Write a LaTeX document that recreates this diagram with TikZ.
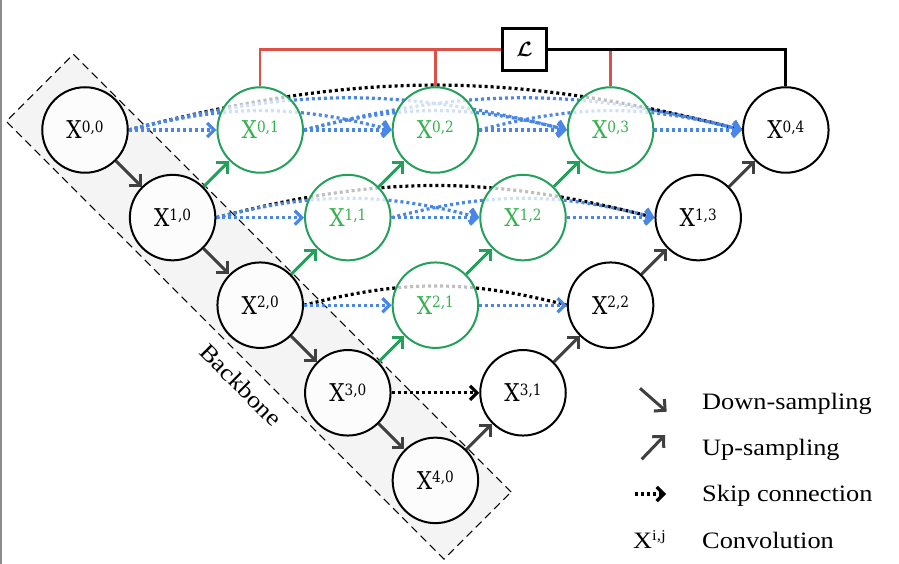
\documentclass[tikz,border=0pt]{standalone}
\usepackage{amsmath}
\usepackage{fontspec}
\setmainfont{Liberation Serif}[FakeStretch=1.12]
\newfontfamily\nodefont{DejaVu Serif}[FakeStretch=0.88]
\usetikzlibrary{arrows.meta}
\definecolor{gr}{HTML}{23A05A}
\definecolor{grt}{HTML}{34B04C}
\definecolor{bl}{HTML}{4A86E8}
\definecolor{rd}{HTML}{DC5046}
\definecolor{dg}{HTML}{404040}
\definecolor{bbfill}{HTML}{F4F4F4}
\definecolor{edgegray}{HTML}{8C8C8C}
\pgfdeclarelayer{back}
\pgfdeclarelayer{bg}
\pgfsetlayers{back,bg,main}
\newcommand\xl[2]{X\raisebox{6.5pt}{\fontsize{15.5}{15.5}\selectfont #1,#2}}
\begin{document}
\begin{tikzpicture}[x=1pt,y=1pt,
  cnode/.style={circle, draw, line width=2pt, minimum size=85.5pt, inner sep=0pt,
    fill=white, fill opacity=0.75, text opacity=1, draw opacity=1,
    font=\nodefont\fontsize{24.5}{24.5}\selectfont},
  gnode/.style={cnode, draw=gr, text=grt},
  knode/.style={cnode, draw=black, text=black},
  dnarrow/.style={dg, line width=3pt, -{Straight Barb[length=8pt,width=16pt]}},
  gnarrow/.style={gr, line width=3pt, -{Straight Barb[length=8pt,width=16pt]}},
  bskip/.style={bl, line width=3.2pt, dash pattern=on 3pt off 3pt, -{Straight Barb[length=7pt,width=14pt]}},
  kskip/.style={black, line width=3.2pt, dash pattern=on 3pt off 3pt},
  redline/.style={rd, line width=2.5pt},
  kline/.style={black, line width=2.8pt},
  lgtext/.style={font=\fontsize{23.5}{23.5}\selectfont, inner sep=0pt},
  bbox/.style={draw=black, line width=1.1pt, dash pattern=on 8pt off 5pt, fill=bbfill, inner sep=0pt}
]
\useasboundingbox (0,0) rectangle (899,564);
\draw[edgegray, line width=1.5pt] (1,0) -- (1,564);

% nodes
\node[knode] (X00) at (85,434) {\xl{0}{0}};
\node[knode] (X10) at (172.6,346.4) {\xl{1}{0}};
\node[knode] (X20) at (260.2,258.8) {\xl{2}{0}};
\node[knode] (X30) at (347.8,171.2) {\xl{3}{0}};
\node[knode] (X40) at (435.4,83.6) {\xl{4}{0}};
\node[gnode] (X01) at (260.2,434) {\xl{0}{1}};
\node[gnode] (X11) at (347.8,346.4) {\xl{1}{1}};
\node[gnode] (X21) at (435.4,258.8) {\xl{2}{1}};
\node[knode] (X31) at (523,171.2) {\xl{3}{1}};
\node[gnode] (X02) at (435.4,434) {\xl{0}{2}};
\node[gnode] (X12) at (523,346.4) {\xl{1}{2}};
\node[knode] (X22) at (610.6,258.8) {\xl{2}{2}};
\node[gnode] (X03) at (610.6,434) {\xl{0}{3}};
\node[knode] (X13) at (698.2,346.4) {\xl{1}{3}};
\node[knode] (X04) at (785.8,434) {\xl{0}{4}};

% loss box
\node[draw, line width=3pt, minimum width=44pt, minimum height=41.5pt, inner sep=0pt] (L) at (524.5,514.5)
  {\fontsize{21}{21}\selectfont$\boldsymbol{\mathcal{L}}$};
\draw[redline] (X01.north) |- (L.west);
\draw[redline] (X02.north) -- (X02.north |- L.west);
\draw[redline] (X03.north) -- (X03.north |- L.east);
\draw[kline] (L.east) -| (X04.north);

% backbone
\begin{pgfonlayer}{back}
\node[bbox, rotate=-45, minimum width=619pt, minimum height=95pt] (bb) at ([xshift=-1.5pt,yshift=-1.5pt]X20.center) {};
\node[lgtext, rotate=-45] (bbt) at (241,179) {Backbone};
\end{pgfonlayer}

\begin{pgfonlayer}{bg}
% black skip arcs
\draw[kskip] (X00.east) to[bend left=14.5] (X04.west);
\draw[kskip] (X10.east) to[bend left=14.5] (X13.west);
\draw[kskip] (X20.east) to[bend left=14.5] (X22.west);
\draw[kskip, -{Straight Barb[length=7pt,width=14pt]}] (X30) -- (X31);
% blue straight
\draw[bskip] (X00) -- (X01);
\draw[bskip] (X01) -- (X02);
\draw[bskip] (X02) -- (X03);
\draw[bskip] (X03) -- (X04);
\draw[bskip] (X10) -- (X11);
\draw[bskip] (X11) -- (X12);
\draw[bskip] (X12) -- (X13);
\draw[bskip] (X20) -- (X21);
\draw[bskip] (X21) -- (X22);
% blue arcs
\draw[bskip] (X00.east) to[bend left=14.5] (X02.west);
\draw[bskip] (X00.east) to[bend left=14.5] (X03.west);
\draw[bskip] (X01.east) to[bend left=14.5] (X03.west);
\draw[bskip] (X01.east) to[bend left=14.5] (X04.west);
\draw[bskip] (X02.east) to[bend left=14.5] (X04.west);
\draw[bskip] (X10.east) to[bend left=14.5] (X12.west);
\draw[bskip] (X11.east) to[bend left=14.5] (X13.west);
% down-sampling
\draw[dnarrow] (X00) -- (X10);
\draw[dnarrow] (X10) -- (X20);
\draw[dnarrow] (X20) -- (X30);
\draw[dnarrow] (X30) -- (X40);
% up-sampling green
\draw[gnarrow] (X10) -- (X01);
\draw[gnarrow] (X20) -- (X11);
\draw[gnarrow] (X11) -- (X02);
\draw[gnarrow] (X30) -- (X21);
\draw[gnarrow] (X21) -- (X12);
\draw[gnarrow] (X12) -- (X03);
% up-sampling dark
\draw[dnarrow] (X40) -- (X31);
\draw[dnarrow] (X31) -- (X22);
\draw[dnarrow] (X22) -- (X13);
\draw[dnarrow] (X13) -- (X04);
\end{pgfonlayer}

% legend
\coordinate (ld1) at (640,175.7);
\coordinate (ld2) at (666.7,152.3);
\coordinate (lu1) at (641.7,104.7);
\coordinate (lu2) at (665,129);
\coordinate (ls1) at (635,70);
\coordinate (ls2) at (666,70);
\draw[dnarrow] (ld1) -- (ld2);
\draw[dnarrow] (lu1) -- (lu2);
\draw[kskip, -{Straight Barb[length=7pt,width=14pt]}] (ls1) -- (ls2);
\node[lgtext, anchor=base west] (t1) at (702,154.5) {Down-sampling};
\node[lgtext, anchor=base west] (t2) at (702,108.5) {Up-sampling};
\node[lgtext, anchor=base west] (t3) at (702,62) {Skip connection};
\node[lgtext, anchor=base west] (t4) at (702,15.5) {Convolution};
\node[lgtext, anchor=base west] (t5) at (633,15.5) {X\raisebox{8pt}{\fontsize{15}{15}\selectfont i,j}};
\end{tikzpicture}
\end{document}
